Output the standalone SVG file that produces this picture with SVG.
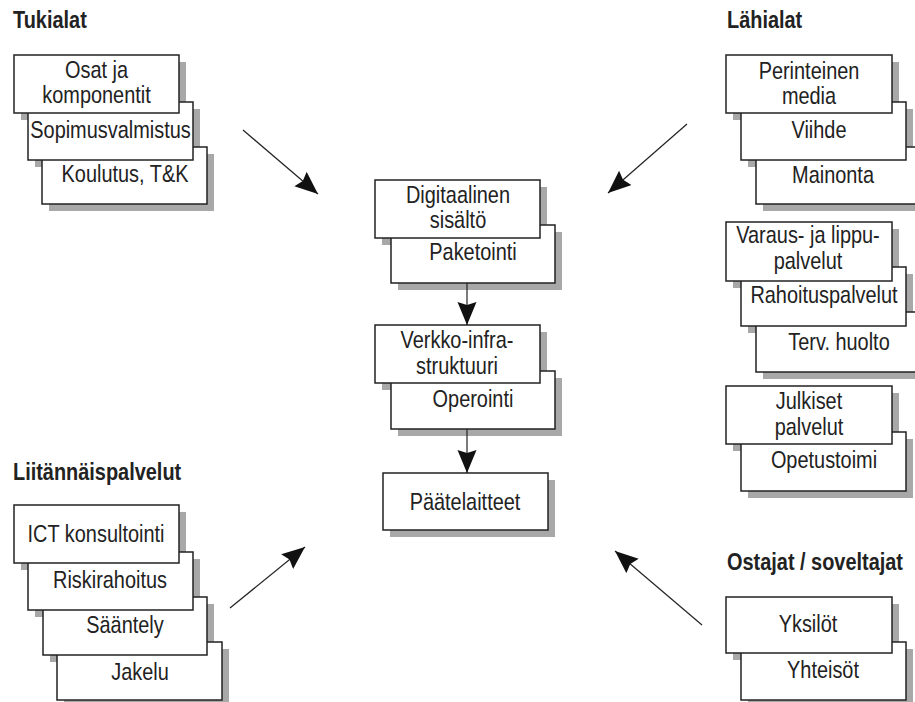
<svg xmlns="http://www.w3.org/2000/svg" width="915" height="702" viewBox="0 0 915 702">
<defs>
<style>
.t{font-family:"Liberation Sans",Arial,sans-serif;font-size:24px;font-weight:bold;fill:#222}
.b{font-family:"Liberation Sans",Arial,sans-serif;font-size:24px;fill:#222;text-anchor:middle}
.box{fill:#fff;stroke:#222;stroke-width:1.5}
.sh{fill:#a8a8a8}
.c{stroke:#222;stroke-width:1.2;fill:none}
</style>
<marker id="ah" markerUnits="userSpaceOnUse" markerWidth="24" markerHeight="20" refX="23" refY="9.5" orient="auto">
<path d="M0,0 L23,9.5 L0,19 L3,9.5 z" fill="#111"/>
</marker>
</defs>
<rect width="915" height="702" fill="#fff"/>

<g id="titles">
<text class="t" x="0" y="28" transform="translate(13,0) scale(0.83,1)">Tukialat</text>
<text class="t" x="0" y="28" transform="translate(727,0) scale(0.83,1)">Lähialat</text>
<text class="t" x="0" y="480" transform="translate(13,0) scale(0.83,1)">Liitännäispalvelut</text>
<text class="t" x="0" y="570" transform="translate(727,0) scale(0.83,1)">Ostajat / soveltajat</text>
</g>

<g id="shadows" class="sh">
<rect x="49" y="154" width="165" height="57"/>
<rect x="35" y="109" width="165" height="58"/>
<rect x="21" y="62" width="165" height="58"/>
<rect x="763" y="154" width="165" height="57"/>
<rect x="748" y="109" width="165" height="58"/>
<rect x="733" y="62" width="166" height="58"/>
<rect x="763" y="319" width="165" height="60"/>
<rect x="748" y="274" width="165" height="59"/>
<rect x="733" y="229" width="166" height="59"/>
<rect x="748" y="439" width="165" height="59"/>
<rect x="733" y="393" width="166" height="58"/>
<rect x="398" y="232" width="164" height="58"/>
<rect x="382" y="187" width="165" height="58"/>
<rect x="398" y="378" width="164" height="58"/>
<rect x="382" y="332" width="165" height="58"/>
<rect x="390" y="480" width="165" height="57"/>
<rect x="64" y="649" width="165" height="58"/>
<rect x="50" y="604" width="164" height="58"/>
<rect x="35" y="559" width="165" height="58"/>
<rect x="21" y="512" width="165" height="58"/>
<rect x="748" y="649" width="165" height="58"/>
<rect x="733" y="604" width="166" height="56"/>
</g>

<g id="n-koulutus"><rect class="box" x="42" y="147" width="165" height="57"/><text class="b" x="0" y="182" transform="translate(125,0) scale(0.83,1)">Koulutus, T&amp;K</text></g>
<g id="n-sopimus"><rect class="box" x="28" y="102" width="165" height="58"/><text class="b" x="0" y="138" transform="translate(110.5,0) scale(0.83,1)">Sopimusvalmistus</text></g>
<g id="n-osat"><rect class="box" x="14" y="55" width="165" height="58"/><text class="b" x="0" y="78" transform="translate(96.5,0) scale(0.83,1)">Osat ja</text><text class="b" x="0" y="103" transform="translate(96.5,0) scale(0.83,1)">komponentit</text></g>

<g id="n-mainonta"><rect class="box" x="756" y="147" width="165" height="57"/><text class="b" x="0" y="183" transform="translate(833,0) scale(0.83,1)">Mainonta</text></g>
<g id="n-viihde"><rect class="box" x="741" y="102" width="165" height="58"/><text class="b" x="0" y="138" transform="translate(819,0) scale(0.83,1)">Viihde</text></g>
<g id="n-perinteinen"><rect class="box" x="726" y="55" width="166" height="58"/><text class="b" x="0" y="79" transform="translate(809,0) scale(0.83,1)">Perinteinen</text><text class="b" x="0" y="104" transform="translate(809,0) scale(0.83,1)">media</text></g>

<g id="n-terv"><rect class="box" x="756" y="312" width="165" height="60"/><text class="b" x="0" y="350" transform="translate(839,0) scale(0.83,1)">Terv. huolto</text></g>
<g id="n-rahoitus"><rect class="box" x="741" y="267" width="165" height="59"/><text class="b" x="0" y="303" transform="translate(824,0) scale(0.83,1)">Rahoituspalvelut</text></g>
<g id="n-varaus"><rect class="box" x="726" y="222" width="166" height="59"/><text class="b" x="0" y="243" transform="translate(808,0) scale(0.83,1)">Varaus- ja lippu-</text><text class="b" x="0" y="269" transform="translate(808,0) scale(0.83,1)">palvelut</text></g>

<g id="n-opetus"><rect class="box" x="741" y="432" width="165" height="59"/><text class="b" x="0" y="468" transform="translate(824,0) scale(0.83,1)">Opetustoimi</text></g>
<g id="n-julkiset"><rect class="box" x="726" y="386" width="166" height="58"/><text class="b" x="0" y="409" transform="translate(809,0) scale(0.83,1)">Julkiset</text><text class="b" x="0" y="435" transform="translate(809,0) scale(0.83,1)">palvelut</text></g>

<g id="n-paketointi"><rect class="box" x="391" y="225" width="164" height="58"/><text class="b" x="0" y="260" transform="translate(473,0) scale(0.83,1)">Paketointi</text></g>
<g id="n-digitaalinen"><rect class="box" x="375" y="180" width="165" height="58"/><text class="b" x="0" y="203" transform="translate(458,0) scale(0.83,1)">Digitaalinen</text><text class="b" x="0" y="228" transform="translate(458,0) scale(0.83,1)">sisältö</text></g>
<g id="n-operointi"><rect class="box" x="391" y="371" width="164" height="58"/><text class="b" x="0" y="407" transform="translate(473,0) scale(0.83,1)">Operointi</text></g>
<g id="n-verkko"><rect class="box" x="375" y="325" width="165" height="58"/><text class="b" x="0" y="348" transform="translate(457,0) scale(0.83,1)">Verkko-infra-</text><text class="b" x="0" y="374" transform="translate(457,0) scale(0.83,1)">struktuuri</text></g>
<g id="n-paatelaitteet"><rect class="box" x="383" y="473" width="165" height="57"/><text class="b" x="0" y="510" transform="translate(465,0) scale(0.83,1)">Päätelaitteet</text></g>

<g id="n-jakelu"><rect class="box" x="57" y="642" width="165" height="58"/><text class="b" x="0" y="680" transform="translate(140,0) scale(0.83,1)">Jakelu</text></g>
<g id="n-saantely"><rect class="box" x="43" y="597" width="164" height="58"/><text class="b" x="0" y="633" transform="translate(125,0) scale(0.83,1)">Sääntely</text></g>
<g id="n-riski"><rect class="box" x="28" y="552" width="165" height="58"/><text class="b" x="0" y="588" transform="translate(110,0) scale(0.83,1)">Riskirahoitus</text></g>
<g id="n-ict"><rect class="box" x="14" y="505" width="165" height="58"/><text class="b" x="0" y="542" transform="translate(96,0) scale(0.83,1)">ICT konsultointi</text></g>

<g id="n-yhteisot"><rect class="box" x="741" y="642" width="165" height="58"/><text class="b" x="0" y="678" transform="translate(823,0) scale(0.83,1)">Yhteisöt</text></g>
<g id="n-yksilot"><rect class="box" x="726" y="597" width="166" height="56"/><text class="b" x="0" y="632" transform="translate(808,0) scale(0.83,1)">Yksilöt</text></g>

<g id="connectors" class="c">
<line x1="243" y1="130" x2="318" y2="194" marker-end="url(#ah)"/>
<line x1="687" y1="124" x2="608" y2="193" marker-end="url(#ah)"/>
<line x1="467" y1="283" x2="467" y2="325" marker-end="url(#ah)"/>
<line x1="467" y1="429" x2="467" y2="473" marker-end="url(#ah)"/>
<line x1="230" y1="608" x2="305" y2="547" marker-end="url(#ah)"/>
<line x1="702" y1="625" x2="615" y2="551" marker-end="url(#ah)"/>
</g>
</svg>
